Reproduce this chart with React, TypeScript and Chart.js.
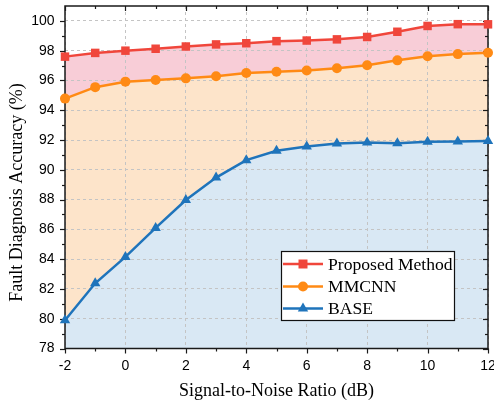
import React, { useEffect, useRef } from 'react';
import { Chart, registerables } from 'chart.js';
Chart.register(...registerables);

const snr = [-2, -1, 0, 1, 2, 3, 4, 5, 6, 7, 8, 9, 10, 11, 12];
const proposed = [97.6, 97.85, 98.0, 98.13, 98.28, 98.42, 98.5, 98.64, 98.68, 98.76, 98.92, 99.27, 99.66, 99.78, 99.77];
const mmcnn = [94.78, 95.55, 95.92, 96.03, 96.14, 96.28, 96.5, 96.58, 96.67, 96.82, 97.02, 97.35, 97.62, 97.77, 97.86];
const base = [79.9, 82.38, 84.15, 86.1, 87.97, 89.48, 90.65, 91.28, 91.56, 91.76, 91.83, 91.78, 91.88, 91.9, 91.93];
const xTicks = [-2, 0, 2, 4, 6, 8, 10, 12];
const yTicks = [78, 80, 82, 84, 86, 88, 90, 92, 94, 96, 98, 100];
const seriesNames = ['Proposed Method', 'MMCNN', 'BASE'];
const lineColors = ['#f0463b', '#ff8a14', '#1f74bb'];
const fillColors = ['#f8cdd7', '#fde4ca', '#d9e8f4'];
const pointStyles = ['rect', 'circle', 'triangle'];
const yTitle = 'Fault Diagnosis Accuracy (%)';
const xTitle = 'Signal-to-Noise Ratio (dB)';
const serif = '"Liberation Serif", "Times New Roman", serif';
const sans = '"Liberation Sans", Arial, sans-serif';

function drawMarker(ctx: CanvasRenderingContext2D, style: string, x: number, y: number, color: string) {
  ctx.fillStyle = color;
  ctx.beginPath();
  if (style === 'rect') {
    ctx.rect(x - 4.5, y - 4.5, 9, 9);
  } else if (style === 'circle') {
    ctx.arc(x, y, 5, 0, Math.PI * 2);
  } else {
    const r = 6;
    ctx.moveTo(x, y - r);
    ctx.lineTo(x + r * Math.sin((2 * Math.PI) / 3), y - r * Math.cos((2 * Math.PI) / 3));
    ctx.lineTo(x + r * Math.sin((4 * Math.PI) / 3), y - r * Math.cos((4 * Math.PI) / 3));
    ctx.closePath();
  }
  ctx.fill();
}

const framePlugin = {
  id: 'frameTicks',
  beforeDatasetsDraw(chart: any) {
    const { ctx, chartArea, scales } = chart;
    const { left, right, top, bottom } = chartArea;
    const x = scales.x;
    const y = scales.y;
    ctx.save();
    ctx.strokeStyle = '#1a1a1a';
    ctx.lineWidth = 1.5;
    ctx.strokeRect(left, top, right - left, bottom - top);
    ctx.lineWidth = 1.2;
    const line = (x1: number, y1: number, x2: number, y2: number) => {
      ctx.beginPath();
      ctx.moveTo(x1, y1);
      ctx.lineTo(x2, y2);
      ctx.stroke();
    };
    for (let v = x.min; v <= x.max; v++) {
      const px = Math.round(x.getPixelForValue(v)) + 0.5;
      const len = v % 2 === 0 ? 5 : 3;
      line(px, bottom, px, bottom + len);
      line(px, top, px, top + len);
    }
    for (let v = 78; v <= 100; v++) {
      const py = Math.round(y.getPixelForValue(v)) + 0.5;
      const len = v % 2 === 0 ? 5 : 3;
      line(left - len, py, left, py);
      line(right - len, py, right, py);
    }
    // y-axis title
    ctx.save();
    ctx.translate(17.5, 192.5);
    ctx.rotate(-Math.PI / 2);
    ctx.font = '18px ' + serif;
    ctx.fillStyle = '#000';
    ctx.textAlign = 'center';
    ctx.textBaseline = 'middle';
    ctx.fillText(yTitle, 0, 0);
    ctx.restore();
    ctx.restore();
  },
};

const legendPlugin = {
  id: 'boxLegend',
  afterDraw(chart: any) {
    const { ctx } = chart;
    ctx.save();
    const bx = 281, by = 251, bw = 173, bh = 69;
    ctx.fillStyle = '#ffffff';
    ctx.fillRect(bx, by, bw, bh);
    ctx.strokeStyle = '#111';
    ctx.lineWidth = 1.2;
    ctx.strokeRect(bx + 0.5, by + 0.5, bw, bh);
    const rows = [264, 286.5, 308.5];
    ctx.font = '17.6px ' + serif;
    ctx.textBaseline = 'middle';
    seriesNames.forEach((name, i) => {
      const ry = rows[i];
      ctx.strokeStyle = lineColors[i];
      ctx.lineWidth = 2.5;
      ctx.beginPath();
      ctx.moveTo(283, ry);
      ctx.lineTo(323, ry);
      ctx.stroke();
      drawMarker(ctx, pointStyles[i], 303, ry, lineColors[i]);
      ctx.fillStyle = '#000';
      ctx.fillText(name, 328, ry + 1);
    });
    ctx.restore();
  },
};

const noPad = (s: any) => {
  s.paddingTop = 0;
  s.paddingBottom = 0;
  s.paddingLeft = 0;
  s.paddingRight = 0;
};

export default function App() {
  const ref = useRef<HTMLCanvasElement>(null);
  useEffect(() => {
    if (!ref.current) return;
    const series = [proposed, mmcnn, base];
    const fills: any[] = ['+1', '+1', 'start'];
    const chart = new Chart(ref.current, {
      type: 'line',
      data: {
        labels: snr,
        datasets: series.map((s, i) => ({
          label: seriesNames[i],
          data: s.map((v, j) => ({ x: snr[j], y: v })),
          borderColor: lineColors[i],
          backgroundColor: fillColors[i],
          borderWidth: 2.5,
          pointStyle: pointStyles[i] as any,
          pointRadius: i === 0 ? 6 : i === 1 ? 5 : 6,
          pointBackgroundColor: lineColors[i],
          pointBorderColor: lineColors[i],
          pointBorderWidth: 0,
          fill: fills[i],
          tension: 0,
          clip: false as any,
        })),
      },
      options: {
        animation: false,
        responsive: false,
        layout: { padding: { top: 5, right: 3.5, left: 0, bottom: 0 } },
        plugins: {
          legend: { display: false },
          tooltip: { enabled: false },
          filler: { drawTime: 'beforeDraw' } as any,
        },
        scales: {
          x: {
            type: 'linear',
            min: -2,
            max: 12,
            afterBuildTicks: (s: any) => {
              s.ticks = xTicks.map((v) => ({ value: v }));
            },
            afterFit: (s: any) => {
              s.height = 59.5;
              noPad(s);
            },
            grid: { color: '#c4c4c4', lineWidth: 1, drawTicks: false } as any,
            border: { display: false, dash: [3, 3] } as any,
            ticks: {
              padding: 9,
              color: '#000',
              font: { family: sans, size: 14 },
              maxRotation: 0,
            },
            title: {
              display: true,
              text: xTitle,
              color: '#000',
              font: { family: serif, size: 18 },
              padding: { top: 0, bottom: 6.2 },
            },
          },
          y: {
            type: 'linear',
            min: 78,
            max: 101,
            afterBuildTicks: (s: any) => {
              s.ticks = yTicks.map((v) => ({ value: v }));
            },
            afterFit: (s: any) => {
              s.width = 65;
              noPad(s);
            },
            grid: { color: '#c4c4c4', lineWidth: 1, drawTicks: false } as any,
            border: { display: false, dash: [3, 3] } as any,
            ticks: {
              padding: 10.5,
              color: '#000',
              font: { family: sans, size: 14 },
            },
            title: { display: false },
          },
        },
      },
      plugins: [framePlugin, legendPlugin],
    });
    return () => chart.destroy();
  }, []);
  return (
    <div style={{ position: 'fixed', left: 0, top: 0, width: 494, height: 408, background: '#fff' }}>
      <canvas ref={ref} width={494} height={408} />
    </div>
  );
}
